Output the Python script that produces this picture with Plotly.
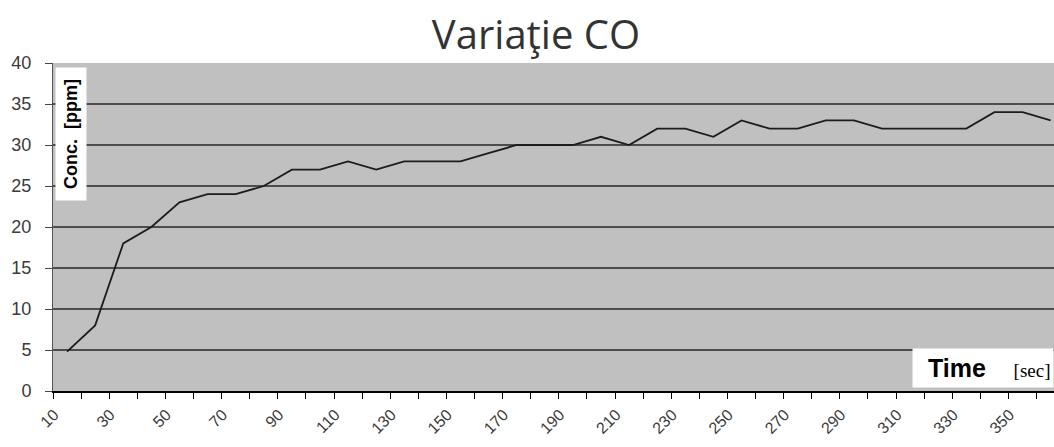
import plotly.graph_objects as go

# CO concentration measured every 10 seconds
time_sec = [10, 20, 30, 40, 50, 60, 70, 80, 90, 100, 110, 120, 130, 140, 150, 160, 170, 180,
            190, 200, 210, 220, 230, 240, 250, 260, 270, 280, 290, 300, 310, 320, 330, 340, 350, 360]
co_ppm = [4.8, 8, 18, 20, 23, 24, 24, 25, 27, 27, 28, 27, 28, 28, 28, 29, 30, 30,
          30, 31, 30, 32, 32, 31, 33, 32, 32, 33, 33, 32, 32, 32, 32, 34, 34, 33]

x_tick_labels = [10, 30, 50, 70, 90, 110, 130, 150, 170, 190, 210, 230, 250, 270, 290, 310, 330, 350]
y_ticks = [0, 5, 10, 15, 20, 25, 30, 35, 40]
dark_grid_levels = [15, 20]

W, H = 1054, 447

fig = go.Figure()
fig.add_trace(go.Scatter(
    x=time_sec, y=co_ppm, mode="lines",
    line=dict(color="#1c1c1c", width=1.8),
    hoverinfo="skip", showlegend=False,
))

# heavier rules at selected levels
for lvl in dark_grid_levels:
    fig.add_shape(type="line", xref="paper", yref="y", x0=0, x1=1, y0=lvl, y1=lvl,
                  line=dict(color="#111111", width=2.2), layer="below")

fig.update_layout(
    width=W, height=H,
    margin=dict(l=53, r=0, t=63, b=56),
    paper_bgcolor="white",
    plot_bgcolor="#c0c0c0",
    title=dict(
        text="Variaţie CO",
        font=dict(family="Open Sans, sans-serif", size=40, color="#333333"),
        x=536 / W, xanchor="center", xref="container",
        y=1 - 35 / H, yanchor="middle", yref="container",
    ),
    xaxis=dict(
        range=[5, 361.2],
        tickmode="array", tickvals=x_tick_labels,
        ticktext=[str(v) for v in x_tick_labels],
        tickangle=-45, ticks="", showgrid=False, zeroline=False,
        tickfont=dict(family="Liberation Sans, Arial, sans-serif", size=16, color="#3a3a3a"),
        ticklabelstandoff=6, ticklabelshift=-13,
        showline=True, linecolor="black", linewidth=2,
        minor=dict(tickmode="linear", tick0=5, dtick=10, ticks="outside",
                   ticklen=6, tickcolor="black", tickwidth=1, showgrid=False),
    ),
    yaxis=dict(
        range=[0, 40], tickmode="array", tickvals=y_ticks,
        ticks="outside", ticklen=7, tickcolor="#444444",
        showgrid=True, gridcolor="#4d4d4d", gridwidth=1.5,
        zeroline=False, showline=True, linecolor="#555555", linewidth=1,
        tickfont=dict(family="Liberation Sans, Arial, sans-serif", size=18, color="#3a3a3a"),
        ticklabelstandoff=10,
    ),
)

# axis titles sitting on white boxes inside the plot area
fig.add_annotation(
    text="Conc.  [ppm]", textangle=-90,
    xref="paper", yref="paper", x=0.0, y=1.0, xanchor="left", yanchor="top",
    xshift=2, yshift=-4,
    showarrow=False, bgcolor="white", width=130, height=28,
    font=dict(family="Liberation Sans, Arial, sans-serif", size=18, color="black", weight="bold"),
)
fig.add_annotation(
    text=("&nbsp;&nbsp;<b>Time</b>&nbsp;&nbsp;&nbsp;&nbsp;"
          "<span style='font-size:19px;font-family:Liberation Serif'>[sec]</span>"),
    xref="paper", yref="paper", x=1.0, y=0.0, xanchor="right", yanchor="bottom",
    yshift=3, showarrow=False, bgcolor="white", width=138, height=36, align="left",
    font=dict(family="Liberation Sans, Arial, sans-serif", size=25, color="black"),
)

fig.write_html("out.html")
